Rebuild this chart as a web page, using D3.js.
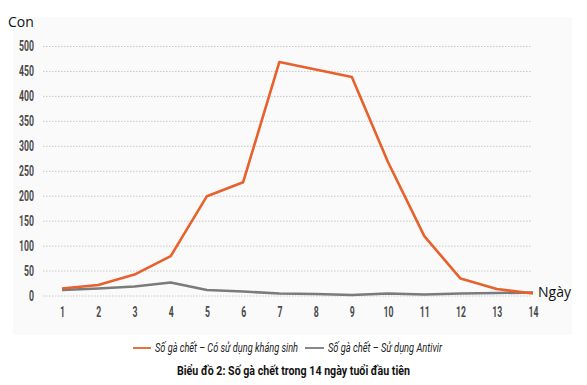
<!DOCTYPE html>
<html>
<head>
<meta charset="utf-8">
<script src="https://cdn.jsdelivr.net/npm/d3@7"></script>
<style>
  html, body { margin: 0; padding: 0; background: #ffffff; }
  svg { display: block; }
</style>
</head>
<body>
<script>
const days = [1, 2, 3, 4, 5, 6, 7, 8, 9, 10, 11, 12, 13, 14];
const khangSinh = [15, 22, 43, 80, 200, 228, 469, 454, 439, 268, 120, 35, 14, 5];
const antivir = [12, 15, 19, 27, 12, 9, 5, 4, 2, 5, 3, 5, 6, 7];
const yTicks = [0, 50, 100, 150, 200, 250, 300, 350, 400, 450, 500];
const seriesNames = ["Số gà chết – Có sử dụng kháng sinh", "Số gà chết – Sử dụng Antivir"];
const seriesColors = ["#e8602c", "#7b7b7b"];
const yUnit = "Con";
const xUnit = "Ngày";
const title = "Biểu đồ 2: Số gà chết trong 14 ngày tuổi đầu tiên";

const W = 587, H = 385;
const svg = d3.select("body").append("svg").attr("width", W).attr("height", H);
const cfont = "Roboto, 'DejaVu Sans', sans-serif";

// panel background
svg.append("rect").attr("x", 13).attr("y", 17).attr("width", 559).attr("height", 318)
  .attr("fill", "#fafafa");

const x = d3.scaleLinear().domain([1, 14]).range([62, 533]);
const y = d3.scaleLinear().domain([0, 500]).range([296, 46.5]);

// grid
svg.append("g").selectAll("line").data(yTicks).join("line")
  .attr("x1", 43).attr("x2", 532)
  .attr("y1", d => y(d)).attr("y2", d => y(d))
  .attr("stroke", "#c8c8c8").attr("stroke-width", 1)
  .attr("stroke-dasharray", "1.5,1.5");

// y axis
const yAxis = svg.append("g").attr("transform", "translate(34,0)")
  .call(d3.axisLeft(y).tickValues(yTicks).tickSize(0).tickPadding(0));
yAxis.select(".domain").remove();
yAxis.selectAll("text").attr("font-family", cfont).attr("font-weight", "bold")
  .attr("font-size", 14).attr("fill", "#4a4a4a").attr("transform", "scale(0.62,1)");

// x axis
const xAxis = svg.append("g").attr("transform", "translate(0,307)")
  .call(d3.axisBottom(x).tickValues(days).tickFormat(d3.format("d")).tickSize(0).tickPadding(0));
xAxis.select(".domain").remove();
xAxis.selectAll("text").attr("font-family", cfont).attr("font-weight", "bold")
  .attr("font-size", 14).attr("fill", "#4a4a4a").attr("transform", "scale(0.62,1)");

// lines
const line = d3.line().x((d, i) => x(days[i])).y(d => y(d));
svg.append("path").datum(antivir).attr("d", line)
  .attr("fill", "none").attr("stroke", seriesColors[1]).attr("stroke-width", 2.6)
  .attr("stroke-linejoin", "round");
svg.append("path").datum(khangSinh).attr("d", line)
  .attr("fill", "none").attr("stroke", seriesColors[0]).attr("stroke-width", 2.6)
  .attr("stroke-linejoin", "round");

// unit labels
svg.append("text").attr("x", 8).attr("y", 27).text(yUnit)
  .attr("font-family", "'Open Sans', sans-serif").attr("font-size", 14).attr("fill", "#111");
svg.append("text").attr("x", 538).attr("y", 297).text(xUnit)
  .attr("font-family", "'Open Sans', sans-serif").attr("font-size", 14).attr("fill", "#111");

// legend
const legend = [
  { x1: 133, x2: 151, tx: 155, len: 143 },
  { x1: 305, x2: 324, tx: 328, len: 114 }
];
legend.forEach((l, i) => {
  svg.append("line").attr("x1", l.x1).attr("x2", l.x2).attr("y1", 348).attr("y2", 348)
    .attr("stroke", seriesColors[i]).attr("stroke-width", 1.8);
  svg.append("text").attr("x", l.tx).attr("y", 352).text(seriesNames[i])
    .attr("font-family", cfont).attr("font-style", "italic")
    .attr("font-size", 12).attr("fill", "#222")
    .attr("textLength", l.len).attr("lengthAdjust", "spacingAndGlyphs");
});

// title
svg.append("text").attr("x", 177).attr("y", 375).text(title)
  .attr("font-family", cfont).attr("font-weight", "bold")
  .attr("font-size", 12.5).attr("fill", "#111")
  .attr("textLength", 233).attr("lengthAdjust", "spacingAndGlyphs");
</script>
</body>
</html>
